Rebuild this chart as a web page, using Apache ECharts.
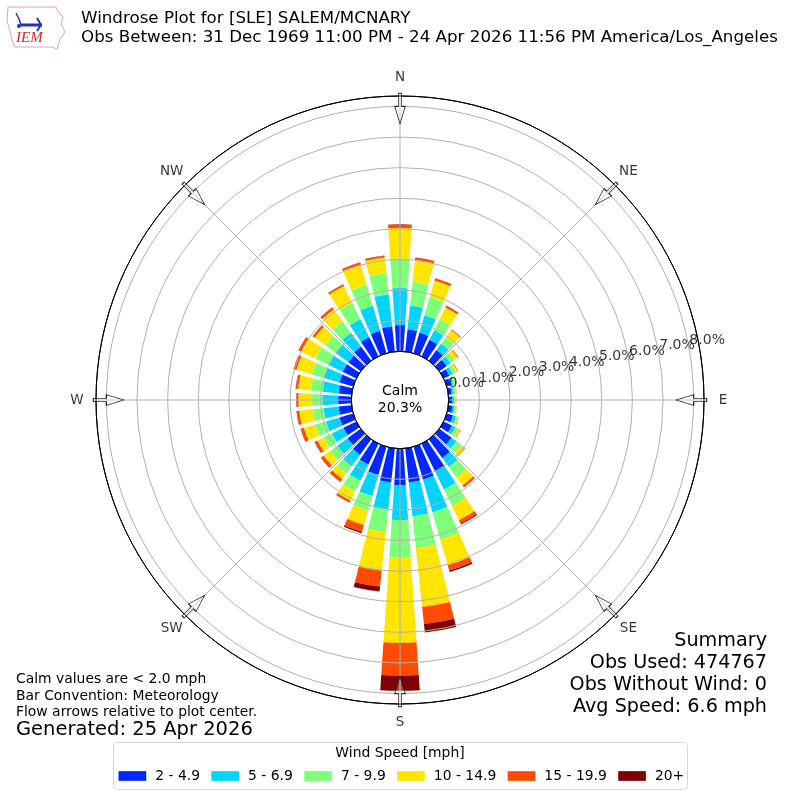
<!DOCTYPE html>
<html><head><meta charset="utf-8">
<script src="https://cdn.jsdelivr.net/npm/echarts@6/dist/echarts.min.js"></script>
<style>html,body{margin:0;padding:0;background:#fff}#c{width:800px;height:800px}</style>
</head><body><div id="c"></div>
<script>
// ---- data ----
const directions = ['0','10','20','30','40','50','60','70','80','90','100','110','120','130','140','150','160','170',
                    '180','190','200','210','220','230','240','250','260','270','280','290','300','310','320','330','340','350'];
const speedBins = ['2 - 4.9','5 - 6.9','7 - 9.9','10 - 14.9','15 - 19.9','20+'];
const binColors = ['#0028ff','#00d4ff','#7dff7a','#ffe500','#ff4a00','#800000'];
const spd2to5   = [0.86,0.73,0.70,0.60,0.43,0.30,0.21,0.14,0.11,0.11,0.14,0.21,0.30,0.50,0.76,1.02,1.12,1.12,1.19,1.12,0.96,0.76,0.63,0.53,0.47,0.47,0.43,0.43,0.43,0.47,0.50,0.50,0.57,0.70,0.76,0.83];
const spd5to7   = [1.21,0.78,0.59,0.36,0.26,0.16,0.13,0.10,0.07,0.07,0.07,0.10,0.13,0.20,0.36,0.65,1.11,1.11,1.14,0.88,0.72,0.59,0.46,0.42,0.42,0.46,0.49,0.52,0.52,0.52,0.52,0.52,0.56,0.65,0.85,1.05];
const spd7to10  = [0.95,0.78,0.62,0.39,0.26,0.16,0.10,0.07,0.07,0.05,0.05,0.07,0.10,0.20,0.42,0.59,0.93,1.05,1.23,0.75,0.49,0.39,0.29,0.29,0.29,0.36,0.36,0.33,0.39,0.42,0.46,0.42,0.46,0.59,0.72,0.69];
const spd10to15 = [1.01,0.72,0.56,0.42,0.29,0.13,0.07,0.03,0.03,0.02,0.02,0.03,0.07,0.13,0.33,0.52,0.87,1.93,2.78,1.27,0.49,0.33,0.23,0.26,0.23,0.39,0.44,0.45,0.42,0.52,0.52,0.42,0.49,0.62,0.69,0.52];
const spd15to20 = [0.10,0.07,0.07,0.07,0.03,0.03,0.015,0.01,0.005,0.005,0.005,0.01,0.015,0.02,0.07,0.13,0.18,0.56,1.07,0.52,0.23,0.07,0.10,0.10,0.10,0.10,0.08,0.06,0.07,0.09,0.09,0.07,0.07,0.05,0.06,0.06];
const spd20plus = [0.02,0.01,0.01,0.005,0.003,0.002,0.001,0,0,0,0,0,0,0,0.01,0.03,0.05,0.28,0.50,0.16,0.05,0.01,0.01,0.01,0.01,0.01,0.01,0.01,0.01,0.01,0.01,0.01,0.01,0.01,0.01,0.01];
const seriesValues = [spd2to5, spd5to7, spd7to10, spd10to15, spd15to20, spd20plus];
const radiusTicks = [0,1,2,3,4,5,6,7,8];
const radiusMax = 8.34;
const compassNames = ['N','NE','E','SE','S','SW','W','NW'];
const compassAngles = [0,45,90,135,180,225,270,315];
const calmPct = '20.3%';
const legendTitle = 'Wind Speed [mph]';
const titleLines = ['Windrose Plot for [SLE] SALEM/MCNARY',
  'Obs Between: 31 Dec 1969 11:00 PM - 24 Apr 2026 11:56 PM America/Los_Angeles'];
const noteLines = ['Calm values are < 2.0 mph','Bar Convention: Meteorology','Flow arrows relative to plot center.'];
const generatedText = 'Generated: 25 Apr 2026';
const summaryLines = ['Summary','Obs Used: 474767','Obs Without Wind: 0','Avg Speed: 6.6 mph'];

// ---- layout constants ----
const FONT = 'DejaVu Sans';
const C = [400, 400];
const R = [48.7, 304];
const arrowR = 7.93, labelR = 8.96, tickLabelAngle = 79.7;
const arrowPath = 'path://M6.35,0 L11.65,0 L11.65,13 L18,13 L9,30.5 L0,13 L6.35,13 Z';

const chart = echarts.init(document.getElementById('c'), null, {renderer:'canvas'});

const barSeries = speedBins.map((name, i) => ({
  type:'bar', name, coordinateSystem:'polar', polarIndex:0, stack:'wind',
  data: seriesValues[i], itemStyle:{color: binColors[i]}, barCategoryGap:'22%',
  silent:true, z:2
}));

const gridColors = ['#000'].concat(Array(8).fill('#b0b0b0')).concat(['#000']);

const option = {
  animation:false,
  backgroundColor:'#fff',
  textStyle:{fontFamily:FONT},
  polar:[{center:C, radius:R},{center:C, radius:R}],
  angleAxis:[
    {polarIndex:0, type:'category', data:directions, startAngle:95, clockwise:true,
     axisLine:{show:false}, axisTick:{show:false}, axisLabel:{show:false}, splitLine:{show:false}},
    {polarIndex:1, type:'value', min:0, max:360, interval:45, startAngle:90, clockwise:true, z:5,
     axisLine:{show:true, lineStyle:{color:'#000', width:1}}, axisTick:{show:false}, axisLabel:{show:false},
     splitLine:{show:true, lineStyle:{color:'#b0b0b0', width:1}}}
  ],
  radiusAxis:[
    {polarIndex:0, type:'value', min:0, max:radiusMax,
     axisLine:{show:false}, axisTick:{show:false}, axisLabel:{show:false}, splitLine:{show:false}},
    {polarIndex:1, type:'value', min:0, max:radiusMax, interval:1, z:5,
     axisLine:{show:false}, axisTick:{show:false}, axisLabel:{show:false},
     splitLine:{show:true, lineStyle:{color:gridColors, width:1}}}
  ],
  legend:{
    data:speedBins, left:118.5, top:769, itemWidth:27.7, itemHeight:9.7, itemGap:11.4, icon:'rect',
    padding:0, selectedMode:false, z:10,
    textStyle:{fontSize:13.9, fontFamily:FONT, color:'#000', padding:[0,0,0,4]}
  },
  series: barSeries.concat([
    {type:'scatter', coordinateSystem:'polar', polarIndex:1, clip:false, z:20, silent:true,
     symbol:arrowPath, symbolSize:[18,30.5], symbolKeepAspect:true,
     itemStyle:{color:'rgba(255,255,255,0.35)', borderColor:'#000', borderWidth:1},
     data: compassAngles.map(a => ({value:[arrowR, a], symbolRotate:-a}))},
    {type:'scatter', coordinateSystem:'polar', polarIndex:1, clip:false, z:21, silent:true,
     symbolSize:1, itemStyle:{color:'rgba(0,0,0,0)'},
     label:{show:true, position:'inside', formatter:'{b}', fontSize:13.5, fontFamily:FONT, color:'#000'},
     data: compassAngles.map((a,i) => ({name:compassNames[i], value:[labelR, a]}))},
    {type:'scatter', coordinateSystem:'polar', polarIndex:1, clip:false, z:21, silent:true,
     symbolSize:1, itemStyle:{color:'rgba(0,0,0,0)'},
     label:{show:true, position:[1,0], align:'left', verticalAlign:'bottom',
            formatter:p => p.value[0].toFixed(1) + '%', fontSize:14, fontFamily:FONT, color:'#000'},
     data: radiusTicks.map(v => [v, tickLabelAngle])}
  ]),
  graphic:[
    // legend frame
    {type:'rect', z:1, shape:{x:113.5, y:742.5, width:574, height:47, r:4},
     style:{fill:'#fff', stroke:'#d6d6d6', lineWidth:1}},
    {type:'text', z:12, style:{text:legendTitle, x:400, y:753, align:'center', verticalAlign:'middle',
     font:'13.9px "DejaVu Sans"', fill:'#000'}},
    // title
    {type:'text', z:12, style:{text:titleLines[0], x:81, y:19, verticalAlign:'middle', font:'16.7px "DejaVu Sans"', fill:'#000'}},
    {type:'text', z:12, style:{text:titleLines[1], x:81, y:38, verticalAlign:'middle', font:'16.7px "DejaVu Sans"', fill:'#000'}},
    // calm
    {type:'text', z:30, style:{text:'Calm', x:400, y:391, align:'center', verticalAlign:'middle', font:'14px "DejaVu Sans"', fill:'#000'}},
    {type:'text', z:30, style:{text:calmPct, x:400, y:408, align:'center', verticalAlign:'middle', font:'14px "DejaVu Sans"', fill:'#000'}},
    // notes
    {type:'text', z:12, style:{text:noteLines[0], x:16, y:679, verticalAlign:'middle', font:'13.9px "DejaVu Sans"', fill:'#000'}},
    {type:'text', z:12, style:{text:noteLines[1], x:16, y:696, verticalAlign:'middle', font:'13.9px "DejaVu Sans"', fill:'#000'}},
    {type:'text', z:12, style:{text:noteLines[2], x:16, y:712, verticalAlign:'middle', font:'13.9px "DejaVu Sans"', fill:'#000'}},
    {type:'text', z:12, style:{text:generatedText, x:16, y:730, verticalAlign:'middle', font:'19.5px "DejaVu Sans"', fill:'#000'}},
    // summary
    {type:'text', z:12, style:{text:summaryLines[0], x:767, y:641, align:'right', verticalAlign:'middle', font:'19.2px "DejaVu Sans"', fill:'#000'}},
    {type:'text', z:12, style:{text:summaryLines[1], x:767, y:663, align:'right', verticalAlign:'middle', font:'19.2px "DejaVu Sans"', fill:'#000'}},
    {type:'text', z:12, style:{text:summaryLines[2], x:767, y:685, align:'right', verticalAlign:'middle', font:'19.2px "DejaVu Sans"', fill:'#000'}},
    {type:'text', z:12, style:{text:summaryLines[3], x:767, y:707, align:'right', verticalAlign:'middle', font:'19.2px "DejaVu Sans"', fill:'#000'}},
    // logo
    {type:'group', x:7, y:5, z:12, children:[
      {type:'polygon', shape:{points:[[1,2],[49,2],[51,7],[56,12],[54,19],[58,27],[53,34],[50,44],[45,42],[8,42],[5,35],[3,26],[0,16]]},
       style:{fill:'#fff', stroke:'#e6a3a3', lineWidth:1}},
      {type:'polyline', shape:{points:[[14,20],[35,20]]}, style:{stroke:'#2233bb', lineWidth:3}},
      {type:'polyline', shape:{points:[[30,13],[34,20],[30,26]]}, style:{stroke:'#2233bb', lineWidth:2, fill:null}},
      {type:'polyline', shape:{points:[[9,8],[12,14],[14,20]]}, style:{stroke:'#2233bb', lineWidth:1.5, fill:null}},
      {type:'circle', shape:{cx:12, cy:21, r:2}, style:{fill:'#2233bb'}},
      {type:'text', style:{text:'IEM', x:9, y:26, font:'italic 15px "Liberation Serif"', fill:'#d02a2a'}}
    ]}
  ]
};
chart.setOption(option);
</script>
</body></html>
